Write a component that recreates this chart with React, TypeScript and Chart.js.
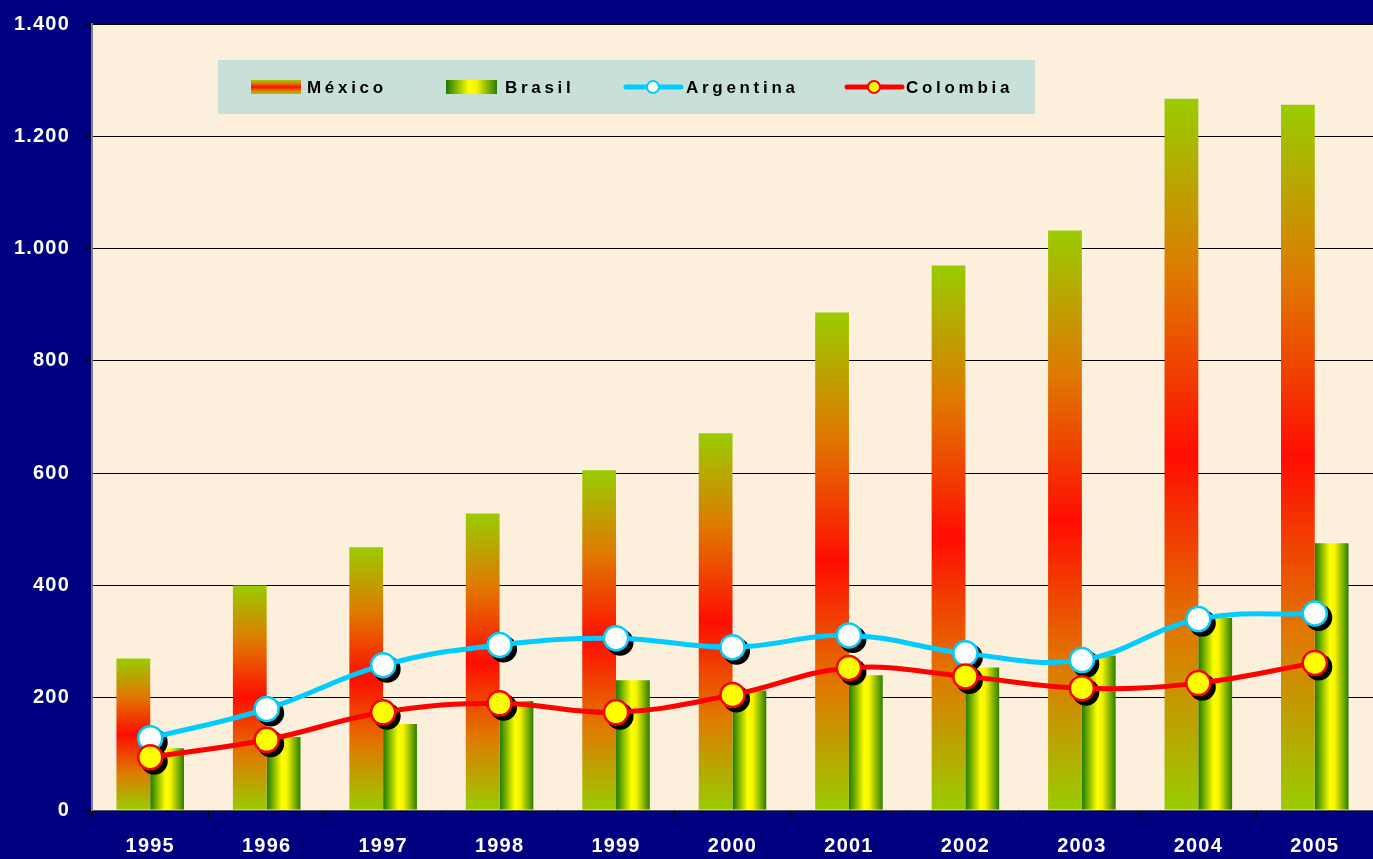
import React, { useEffect, useRef } from "react";
import { Chart, registerables } from "chart.js";

Chart.register(...registerables);

const years = ["1995", "1996", "1997", "1998", "1999", "2000", "2001", "2002", "2003", "2004", "2005"];
const mexico = [270, 400, 468, 528, 605, 671, 886, 970, 1032, 1267, 1256];
const brasil = [110, 130, 153, 194, 231, 213, 240, 254, 275, 342, 475];
const argentina = [128, 180, 258, 294, 306, 290, 311, 279, 267, 340, 350];
const colombia = [94, 125, 174, 190, 174, 205, 253, 238, 217, 226, 262];
const seriesNames = ["México", "Brasil", "Argentina", "Colombia"];
const yTicks = [0, 200, 400, 600, 800, 1000, 1200, 1400];

const FONT = "'Liberation Sans', Arial, sans-serif";
const CAT_PCT = 0.58;

function mexGradient(ctx: CanvasRenderingContext2D, top: number, bottom: number) {
  const g = ctx.createLinearGradient(0, top, 0, bottom);
  g.addColorStop(0, "#99cc00");
  g.addColorStop(0.25, "#e07800");
  g.addColorStop(0.5, "#ff0d00");
  g.addColorStop(0.75, "#e07800");
  g.addColorStop(1, "#99cc00");
  return g;
}
function braGradient(ctx: CanvasRenderingContext2D, left: number, right: number) {
  const g = ctx.createLinearGradient(left, 0, right, 0);
  g.addColorStop(0, "#1a7a00");
  g.addColorStop(0.45, "#ffff00");
  g.addColorStop(0.6, "#f4f400");
  g.addColorStop(1, "#2a7f00");
  return g;
}

const bgPlugin = {
  id: "bgPlugin",
  beforeUpdate(chart: any) {
    (chart.ctx as any).letterSpacing = "1.2px";
  },
  beforeDraw(chart: any) {
    const { ctx, chartArea: a } = chart;
    (ctx as any).letterSpacing = "1.2px";
    ctx.save();
    ctx.fillStyle = "#000080";
    ctx.fillRect(0, 0, chart.width, chart.height);
    ctx.fillStyle = "#fcefdb";
    ctx.fillRect(a.left, a.top, a.right - a.left, a.bottom - a.top);
    ctx.restore();
  },
};

const shadowPlugin = {
  id: "pointShadow",
  beforeDatasetDraw(chart: any, args: any) {
    const ds = chart.data.datasets[args.index];
    if (ds.type !== "line") return;
    const ctx = chart.ctx;
    ctx.save();
    ctx.fillStyle = "#000";
    args.meta.data.forEach((p: any) => {
      ctx.beginPath();
      ctx.arc(p.x + 4, p.y + 4, 13.5, 0, Math.PI * 2);
      ctx.fill();
    });
    ctx.restore();
  },
};

const legendPlugin = {
  id: "boxLegend",
  afterDraw(chart: any) {
    const { ctx, chartArea: a } = chart;
    const x0 = a.left + 126;
    const y0 = a.top + 36;
    const cy = y0 + 27;
    ctx.save();
    ctx.fillStyle = "#c8e0d8";
    ctx.fillRect(x0, y0, 817, 54);
    ctx.fillStyle = mexGradient(ctx, cy - 7, cy + 7);
    ctx.fillRect(x0 + 33, cy - 7, 50, 14);
    ctx.fillStyle = braGradient(ctx, x0 + 228, x0 + 279);
    ctx.fillRect(x0 + 228, cy - 7, 51, 14);
    const lineSym = (xa: number, xb: number, xc: number, line: string, fill: string) => {
      ctx.strokeStyle = line;
      ctx.lineWidth = 5;
      ctx.lineCap = "round";
      ctx.beginPath();
      ctx.moveTo(xa, cy);
      ctx.lineTo(xb, cy);
      ctx.stroke();
      ctx.beginPath();
      ctx.arc(xc, cy, 6, 0, Math.PI * 2);
      ctx.fillStyle = fill;
      ctx.fill();
      ctx.lineWidth = 2;
      ctx.stroke();
    };
    lineSym(x0 + 408, x0 + 463, x0 + 435, "#00ccff", "#ffffff");
    lineSym(x0 + 629, x0 + 684, x0 + 656, "#ff0000", "#ffff00");
    (ctx as any).letterSpacing = "3.7px";
    ctx.font = `bold 17px ${FONT}`;
    ctx.fillStyle = "#000";
    ctx.textBaseline = "middle";
    ctx.textAlign = "left";
    const xs = [89, 287, 468, 688];
    seriesNames.forEach((n, i) => ctx.fillText(n, x0 + xs[i], cy + 1));
    ctx.restore();
  },
};

export default function App() {
  const ref = useRef<HTMLCanvasElement>(null);
  useEffect(() => {
    if (!ref.current) return;
    const chart = new Chart(ref.current, {
      data: {
        labels: years,
        datasets: [
          {
            type: "bar",
            label: seriesNames[0],
            data: mexico,
            order: 3,
            backgroundColor: (c: any) => {
              const ch = c.chart;
              if (!ch.chartArea || c.type !== "data") return "#99cc00";
              const y = ch.scales.y;
              return mexGradient(ch.ctx, y.getPixelForValue(c.raw), y.getPixelForValue(0));
            },
            categoryPercentage: CAT_PCT,
            barPercentage: 1,
          },
          {
            type: "bar",
            label: seriesNames[1],
            data: brasil,
            order: 4,
            backgroundColor: (c: any) => {
              const ch = c.chart;
              if (!ch.chartArea || c.type !== "data") return "#ffff00";
              const x = ch.scales.x;
              const cx = x.getPixelForValue(c.dataIndex);
              const w = ((x.right - x.left) / years.length) * CAT_PCT / 2;
              return braGradient(ch.ctx, cx, cx + w);
            },
            categoryPercentage: CAT_PCT,
            barPercentage: 1,
          },
          {
            type: "line",
            label: seriesNames[2],
            data: argentina,
            order: 2,
            borderColor: "#00ccff",
            borderWidth: 5,
            tension: 0.4,
            pointRadius: 12,
            pointBorderWidth: 2.5,
            pointBackgroundColor: "#ffffff",
            pointBorderColor: "#00ccff",
          },
          {
            type: "line",
            label: seriesNames[3],
            data: colombia,
            order: 1,
            borderColor: "#ff0000",
            borderWidth: 5,
            tension: 0.4,
            pointRadius: 12,
            pointBorderWidth: 2.5,
            pointBackgroundColor: "#ffff00",
            pointBorderColor: "#ff0000",
          },
        ],
      } as any,
      options: {
        animation: false,
        responsive: true,
        maintainAspectRatio: false,
        layout: { autoPadding: false, padding: { top: 24, right: 0, left: 0, bottom: 0 } },
        plugins: { legend: { display: false }, tooltip: { enabled: false } },
        scales: {
          x: {
            offset: true,
            grid: { offset: true, drawOnChartArea: false, color: "#000", tickLength: 8, tickWidth: 1 },
            border: { color: "#555555", width: 1 },
            ticks: { color: "#ffffff", font: { family: FONT, size: 20, weight: "bold" }, padding: 16 },
            afterFit: (s: any) => { s.height = 49; s.paddingLeft = 0; s.paddingRight = 0; },
          },
          y: {
            min: 0,
            max: 1400,
            afterBuildTicks: (s: any) => { s.ticks = yTicks.map((v) => ({ value: v })); },
            grid: { color: "#000", lineWidth: 1, tickLength: 7 },
            border: { color: "#808080", width: 2 },
            ticks: {
              color: "#ffffff",
              font: { family: FONT, size: 20, weight: "bold" },
              padding: 15,
              callback: (v: any) => Number(v).toLocaleString("de-DE"),
            },
            afterFit: (s: any) => { s.width = 92; s.paddingTop = 0; s.paddingBottom = 0; },
          },
        },
      } as any,
      plugins: [bgPlugin, shadowPlugin, legendPlugin],
    });
    return () => chart.destroy();
  }, []);
  return (
    <div style={{ position: "fixed", left: 0, top: 0, width: "100vw", height: "100vh", background: "#000080" }}>
      <canvas ref={ref} />
    </div>
  );
}
